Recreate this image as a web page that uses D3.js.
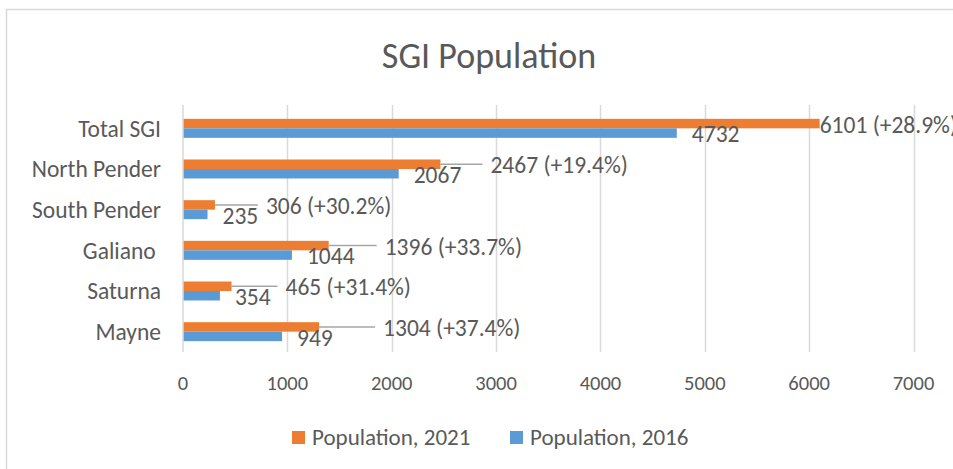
<!DOCTYPE html>
<html>
<head>
<meta charset="utf-8">
<script src="https://cdn.jsdelivr.net/npm/d3@7"></script>
<style>
  html, body { margin: 0; padding: 0; background: #fff; }
  svg { display: block; font-family: Carlito, Calibri, Lato, sans-serif; }
  .txt { fill: #595959; }
</style>
</head>
<body>
<svg id="chart" width="953" height="469"></svg>
<script>
// data
var categories = ["Total SGI", "North Pender", "South Pender", "Galiano ", "Saturna", "Mayne"];
var pop2021 = [6101, 2467, 306, 1396, 465, 1304];
var pop2016 = [4732, 2067, 235, 1044, 354, 949];
var seriesNames = ["Population, 2021", "Population, 2016"];
var xTicks = [0, 1000, 2000, 3000, 4000, 5000, 6000, 7000];

// how far the 2021 labels were dragged out from the bar end (px)
var labelShift = [0, 50, 51, 56, 54, 64];

var colors = ["#ED7D31", "#5B9BD5"];

var svg = d3.select("#chart");

// chart border
svg.append("rect")
    .attr("x", 6.5).attr("y", 9.5)
    .attr("width", 1000).attr("height", 500)
    .attr("fill", "#fff")
    .attr("stroke", "#D9D9D9")
    .attr("stroke-width", 1.5);

svg.append("text")
    .attr("class", "txt")
    .attr("x", 489).attr("y", 55)
    .attr("dy", "0.35em")
    .attr("text-anchor", "middle")
    .style("font-size", "36px")
    .text("SGI Population");

var x = d3.scaleLinear().domain([0, 7000]).range([183, 913.5]);
var y = d3.scaleBand().domain(categories).range([108, 352])
    .paddingInner(0.533).paddingOuter(0.2665);
var ySub = d3.scaleBand().domain(["2021", "2016"]).range([0, y.bandwidth()]);

// gridlines
svg.append("g")
    .selectAll("line")
    .data(xTicks.slice(1))
    .enter()
    .append("line")
    .attr("x1", function (d) { return Math.round(x(d)) + 0.5; })
    .attr("x2", function (d) { return Math.round(x(d)) + 0.5; })
    .attr("y1", 105).attr("y2", 352)
    .attr("stroke", "#D9D9D9")
    .attr("stroke-width", 1.5);

// x tick labels
svg.append("g")
    .selectAll("text")
    .data(xTicks)
    .enter()
    .append("text")
    .attr("class", "txt")
    .attr("x", function (d) { return x(d); })
    .attr("y", 383)
    .attr("dy", "0.35em")
    .attr("text-anchor", "middle")
    .style("font-size", "20.5px")
    .text(function (d) { return d; });

var rows = categories.map(function (c, i) {
    return { name: c, v21: pop2021[i], v16: pop2016[i], shift: labelShift[i] };
});

// bars
var groups = svg.append("g")
    .selectAll("g")
    .data(rows)
    .enter()
    .append("g")
    .attr("transform", function (d) { return "translate(0," + y(d.name) + ")"; });

groups.append("rect")
    .attr("x", x(0))
    .attr("y", ySub("2021"))
    .attr("width", function (d) { return x(d.v21) - x(0); })
    .attr("height", ySub.bandwidth())
    .attr("fill", colors[0]);

groups.append("rect")
    .attr("x", x(0))
    .attr("y", ySub("2016"))
    .attr("width", function (d) { return x(d.v16) - x(0); })
    .attr("height", ySub.bandwidth())
    .attr("fill", colors[1]);

// axis line
svg.append("line")
    .attr("x1", x(0)).attr("x2", x(0))
    .attr("y1", 105).attr("y2", 352)
    .attr("stroke", "#D9D9D9")
    .attr("stroke-width", 1.5);

// category labels
svg.append("g")
    .selectAll("text")
    .data(categories)
    .enter()
    .append("text")
    .attr("class", "txt")
    .attr("x", 161)
    .attr("y", function (d) { return y(d) + y.bandwidth() / 2; })
    .attr("dy", "0.35em")
    .attr("text-anchor", "end")
    .style("font-size", "23.5px")
    .style("white-space", "pre")
    .text(function (d) { return d; });

// leader lines for the moved 2021 labels
var c21 = ySub("2021") + ySub.bandwidth() / 2;
var c16 = ySub("2016") + ySub.bandwidth() / 2;

groups.filter(function (d) { return d.shift > 0; })
    .append("line")
    .attr("x1", function (d) { return x(d.v21); })
    .attr("y1", c21)
    .attr("x2", function (d) { return x(d.v21) + d.shift - 8; })
    .attr("y2", c21)
    .attr("stroke", "#A6A6A6")
    .attr("stroke-width", 1.5);

// data labels
groups.append("text")
    .attr("class", "txt")
    .attr("x", function (d) { return x(d.v21) + d.shift; })
    .attr("y", c21 + 1)
    .attr("dy", "0.35em")
    .style("font-size", "23.5px")
    .text(function (d) {
        var pct = (d.v21 - d.v16) / d.v16 * 100;
        return d.v21 + " (+" + pct.toFixed(1) + "%)";
    });

groups.append("text")
    .attr("class", "txt")
    .attr("x", function (d) { return x(d.v16) + 15; })
    .attr("y", c16 + 1)
    .attr("dy", "0.35em")
    .style("font-size", "23.5px")
    .text(function (d) { return d.v16; });

// legend
var legend = svg.append("g")
    .selectAll("g")
    .data(seriesNames)
    .enter()
    .append("g")
    .attr("transform", function (d, i) { return "translate(" + (292 + i * 218) + ",437)"; });

legend.append("rect")
    .attr("x", 0).attr("y", -6)
    .attr("width", 13).attr("height", 13)
    .attr("fill", function (d, i) { return colors[i]; });

legend.append("text")
    .attr("class", "txt")
    .attr("x", 20)
    .attr("y", 0)
    .attr("dy", "0.35em")
    .style("font-size", "23px")
    .text(function (d) { return d; });
</script>
</body>
</html>
